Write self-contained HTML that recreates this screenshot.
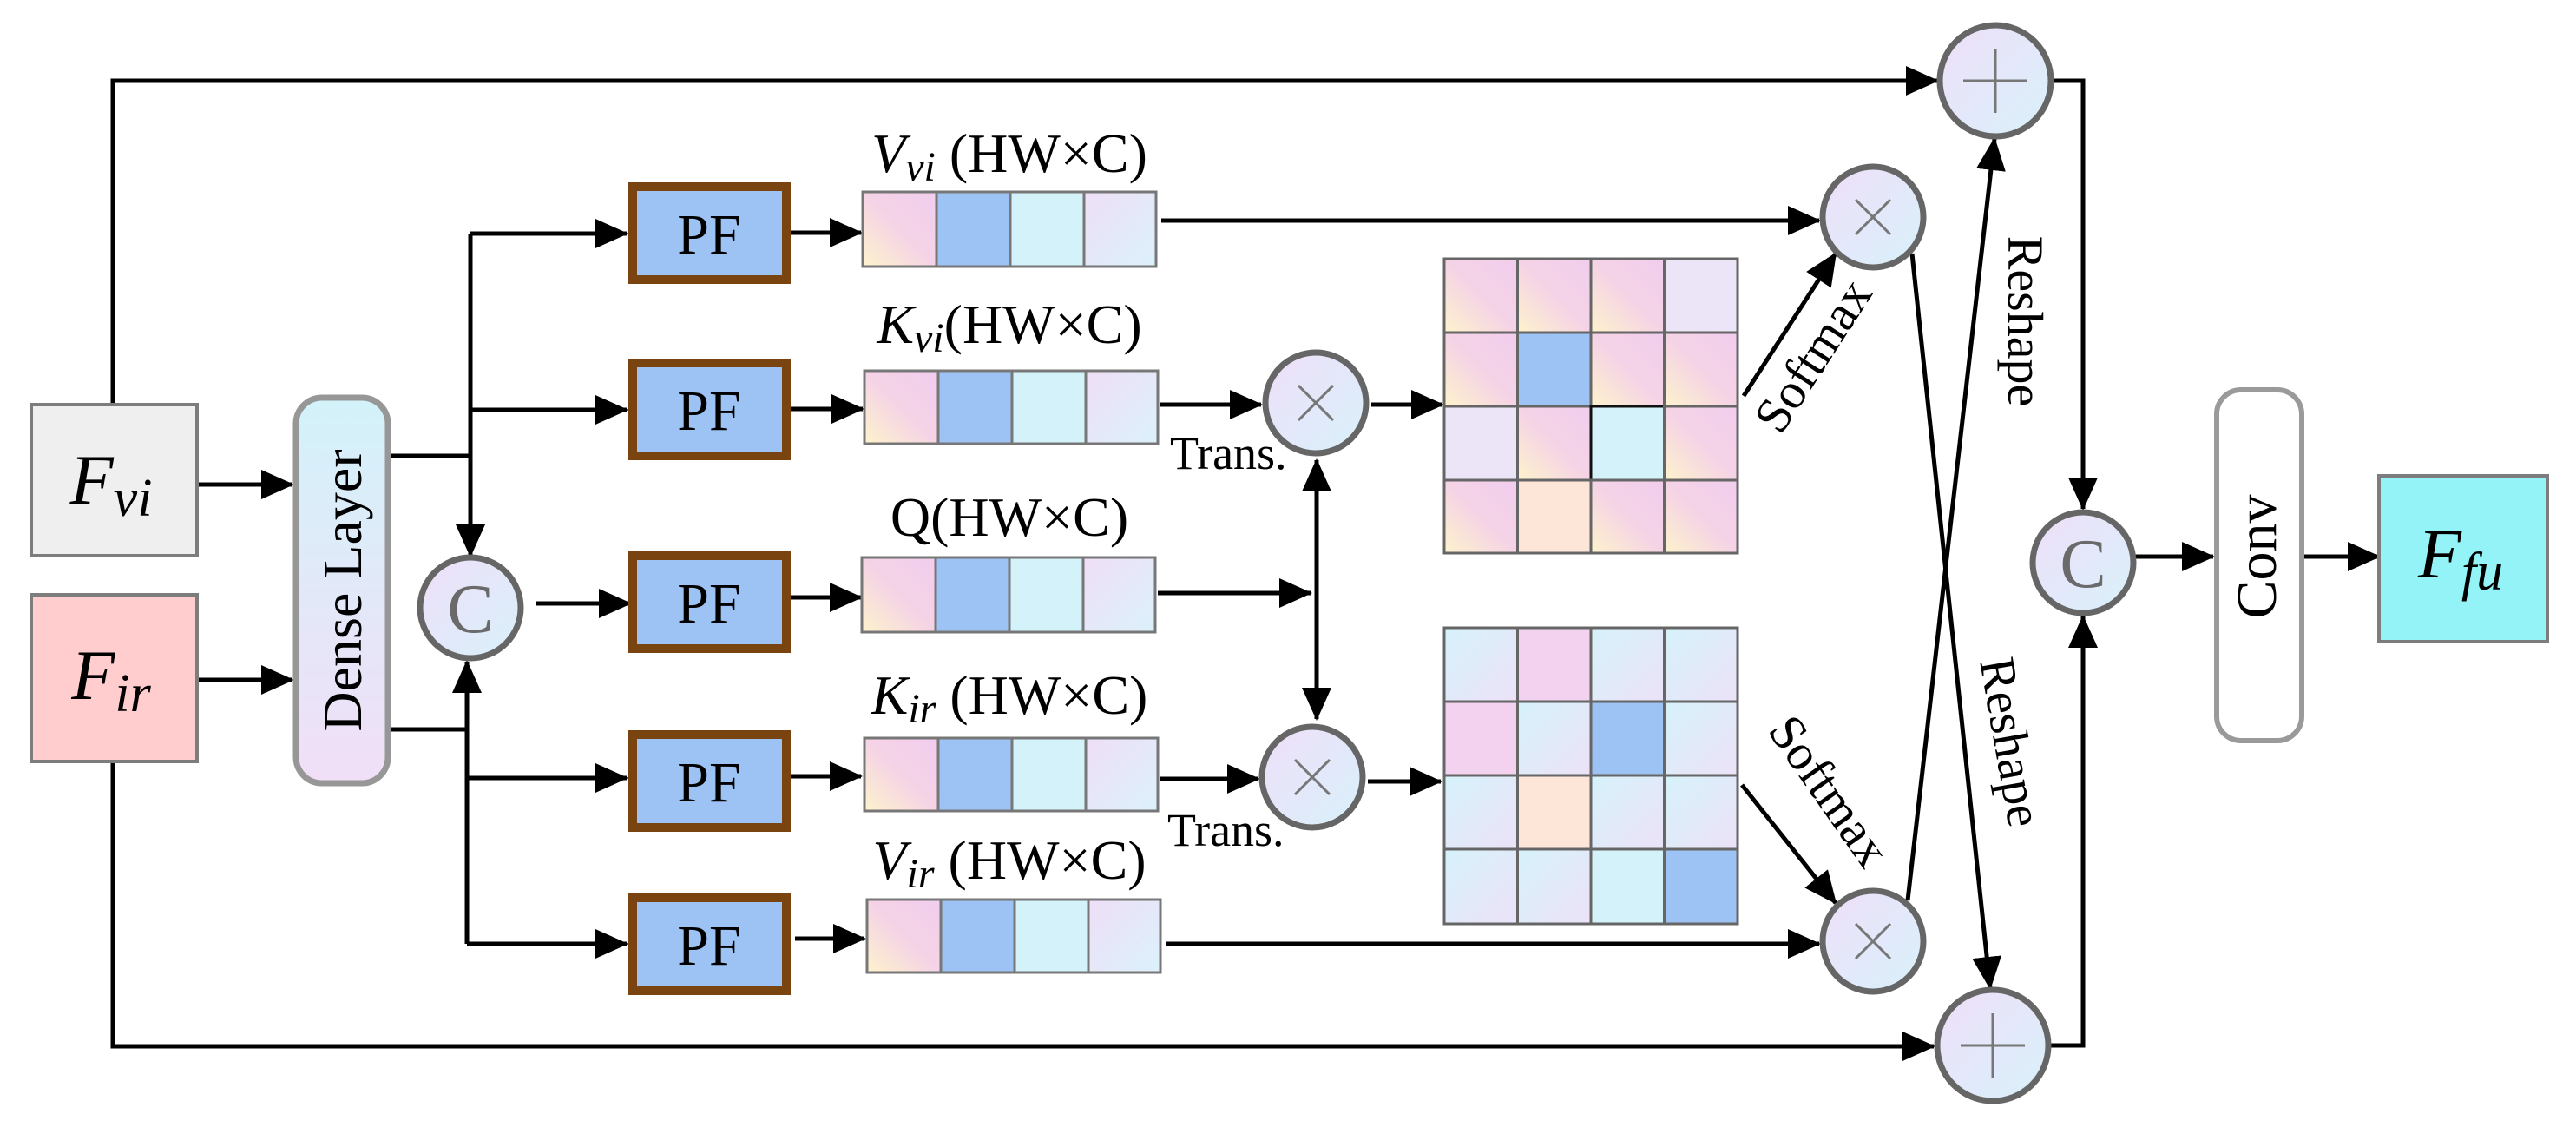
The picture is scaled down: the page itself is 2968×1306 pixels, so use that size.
<!DOCTYPE html>
<html><head><meta charset="utf-8"><style>html,body{margin:0;padding:0;background:#fff}svg{display:block}svg text{font-family:"Liberation Serif","DejaVu Serif",serif}</style></head>
<body>
<svg width="2968" height="1306" viewBox="0 0 2968 1306" xmlns="http://www.w3.org/2000/svg" style="font-family:'Liberation Serif',serif">
<defs>
<marker id="a" markerUnits="userSpaceOnUse" markerWidth="40" markerHeight="34" refX="36" refY="17" orient="auto"><path d="M0,0 L38,17 L0,34 Z" fill="#000"/></marker>
<marker id="as" markerUnits="userSpaceOnUse" markerWidth="40" markerHeight="34" refX="2" refY="17" orient="auto"><path d="M38,0 L0,17 L38,34 Z" fill="#000"/></marker>
<linearGradient id="pp" x1="1" y1="0" x2="0" y2="1"><stop offset="0" stop-color="#f1cdee"/><stop offset="0.5" stop-color="#f5d3e6"/><stop offset="1" stop-color="#fdf3cc"/></linearGradient>
<linearGradient id="lav" x1="0" y1="0" x2="1" y2="1"><stop offset="0" stop-color="#efdff8"/><stop offset="1" stop-color="#dbf1fa"/></linearGradient>
<linearGradient id="lt" x1="0" y1="0" x2="1" y2="1"><stop offset="0" stop-color="#d6f2fa"/><stop offset="1" stop-color="#ece2f8"/></linearGradient>
<linearGradient id="cir" x1="0" y1="0" x2="1" y2="1"><stop offset="0" stop-color="#efdff8"/><stop offset="1" stop-color="#d8f1fb"/></linearGradient>
<linearGradient id="dense" x1="0" y1="0" x2="0" y2="1"><stop offset="0" stop-color="#d3f2fa"/><stop offset="1" stop-color="#f1dff7"/></linearGradient>
</defs>
<g stroke="#000" stroke-width="5" fill="none">
<polyline points="130,466 130,93 2232,93" marker-end="url(#a)"/>
<polyline points="130,877 130,1205 2228,1205" marker-end="url(#a)"/>
<line x1="227" y1="558" x2="337" y2="558" marker-end="url(#a)"/>
<line x1="227" y1="783" x2="337" y2="783" marker-end="url(#a)"/>
<polyline points="448,525 542,525"/>
<polyline points="448,840 538,840"/>
<line x1="542" y1="269" x2="542" y2="640" marker-end="url(#a)"/>
<line x1="538" y1="1087" x2="538" y2="762" marker-end="url(#a)"/>
<line x1="542" y1="269" x2="722" y2="269" marker-end="url(#a)"/>
<line x1="542" y1="472" x2="722" y2="472" marker-end="url(#a)"/>
<line x1="538" y1="896" x2="722" y2="896" marker-end="url(#a)"/>
<line x1="538" y1="1087" x2="722" y2="1087" marker-end="url(#a)"/>
<line x1="617" y1="695" x2="726" y2="695" marker-end="url(#a)"/>
<line x1="911" y1="268" x2="992" y2="268" marker-end="url(#a)"/>
<line x1="911" y1="471" x2="994" y2="471" marker-end="url(#a)"/>
<line x1="911" y1="688" x2="992" y2="688" marker-end="url(#a)"/>
<line x1="911" y1="894" x2="992" y2="894" marker-end="url(#a)"/>
<line x1="916" y1="1081" x2="996" y2="1081" marker-end="url(#a)"/>
<line x1="1338" y1="254" x2="2096" y2="254" marker-end="url(#a)"/>
<line x1="1337" y1="466" x2="1453" y2="466" marker-end="url(#a)"/>
<line x1="1334" y1="683" x2="1510" y2="683" marker-end="url(#a)"/>
<line x1="1337" y1="897" x2="1450" y2="897" marker-end="url(#a)"/>
<line x1="1344" y1="1087" x2="2096" y2="1087" marker-end="url(#a)"/>
<line x1="1517" y1="530" x2="1517" y2="828" marker-start="url(#as)" marker-end="url(#a)"/>
<line x1="1580" y1="466" x2="1662" y2="466" marker-end="url(#a)"/>
<line x1="1576" y1="900" x2="1660" y2="900" marker-end="url(#a)"/>
<line x1="2009" y1="456" x2="2115" y2="292" marker-end="url(#a)"/>
<line x1="2007" y1="904" x2="2115" y2="1040" marker-end="url(#a)"/>
<line x1="2203" y1="292" x2="2293" y2="1138" marker-end="url(#a)"/>
<line x1="2198" y1="1037" x2="2298" y2="160" marker-end="url(#a)"/>
<polyline points="2366,93 2400,93 2400,586" marker-end="url(#a)"/>
<polyline points="2362,1204 2400,1204 2400,710" marker-end="url(#a)"/>
<line x1="2460" y1="641" x2="2550" y2="641" marker-end="url(#a)"/>
<line x1="2653" y1="641" x2="2741" y2="641" marker-end="url(#a)"/>
</g>
<rect x="36" y="466" width="191" height="174" fill="#efefef" stroke="#7d7d7d" stroke-width="4"/>
<rect x="36" y="685" width="191" height="192" fill="#ffcdcd" stroke="#7d7d7d" stroke-width="4"/>
<text x="128" y="580" font-size="82" font-style="italic" text-anchor="middle">F<tspan font-size="62" dy="14">vi</tspan></text>
<text x="128" y="805" font-size="82" font-style="italic" text-anchor="middle">F<tspan font-size="62" dy="14">ir</tspan></text>
<rect x="341" y="458" width="106" height="444" rx="30" fill="url(#dense)" stroke="#979797" stroke-width="7"/>
<text transform="translate(416,680) rotate(-90)" font-size="64" text-anchor="middle">Dense Layer</text>
<circle cx="542" cy="700" r="58" fill="url(#cir)" stroke="#666" stroke-width="7"/>
<text x="542" y="728" font-size="80" fill="#6a6a6a" text-anchor="middle">C</text>
<g fill="#9cc3f3" stroke="#7a4410" stroke-width="10">
<rect x="729" y="215" width="177" height="107"/>
<rect x="729" y="418" width="177" height="107"/>
<rect x="729" y="640" width="177" height="107"/>
<rect x="729" y="846" width="177" height="107"/>
<rect x="729" y="1034" width="177" height="107"/>
</g>
<g font-size="66" text-anchor="middle">
<text x="817" y="292">PF</text><text x="817" y="495">PF</text><text x="817" y="717">PF</text><text x="817" y="923">PF</text><text x="817" y="1111">PF</text>
</g>
<g stroke="#777" stroke-width="3">
<g transform="translate(994,221)"><rect width="85" height="86" fill="url(#pp)"/><rect x="85" width="85" height="86" fill="#9cc3f3"/><rect x="170" width="85" height="86" fill="#d3f2f9"/><rect x="255" width="83" height="86" fill="url(#lav)"/></g>
<g transform="translate(996,427)"><rect width="85" height="84" fill="url(#pp)"/><rect x="85" width="85" height="84" fill="#9cc3f3"/><rect x="170" width="85" height="84" fill="#d3f2f9"/><rect x="255" width="83" height="84" fill="url(#lav)"/></g>
<g transform="translate(993,642)"><rect width="85" height="86" fill="url(#pp)"/><rect x="85" width="85" height="86" fill="#9cc3f3"/><rect x="170" width="85" height="86" fill="#d3f2f9"/><rect x="255" width="83" height="86" fill="url(#lav)"/></g>
<g transform="translate(996,850)"><rect width="85" height="84" fill="url(#pp)"/><rect x="85" width="85" height="84" fill="#9cc3f3"/><rect x="170" width="85" height="84" fill="#d3f2f9"/><rect x="255" width="83" height="84" fill="url(#lav)"/></g>
<g transform="translate(999,1036)"><rect width="85" height="84" fill="url(#pp)"/><rect x="85" width="85" height="84" fill="#9cc3f3"/><rect x="170" width="85" height="84" fill="#d3f2f9"/><rect x="255" width="83" height="84" fill="url(#lav)"/></g>
</g>
<g font-size="64" text-anchor="middle">
<text x="1163" y="198"><tspan font-style="italic">V<tspan font-size="48" dy="10">vi</tspan></tspan><tspan dy="-10"> (HW×C)</tspan></text>
<text x="1163" y="395"><tspan font-style="italic">K<tspan font-size="48" dy="10">vi</tspan></tspan><tspan dy="-10">(HW×C)</tspan></text>
<text x="1163" y="617">Q(HW×C)</text>
<text x="1163" y="822"><tspan font-style="italic">K<tspan font-size="48" dy="10">ir</tspan></tspan><tspan dy="-10"> (HW×C)</tspan></text>
<text x="1163" y="1012"><tspan font-style="italic">V<tspan font-size="48" dy="10">ir</tspan></tspan><tspan dy="-10"> (HW×C)</tspan></text>
</g>
<text x="1348" y="540" font-size="54">Trans.</text>
<text x="1345" y="974" font-size="54">Trans.</text>
<g fill="url(#cir)" stroke="#666" stroke-width="7">
<circle cx="1516" cy="464" r="58"/><circle cx="1512" cy="895" r="58"/>
<circle cx="2158" cy="250" r="58"/><circle cx="2158" cy="1084" r="58"/>
<circle cx="2299" cy="93" r="64"/><circle cx="2296" cy="1204" r="64"/>
<circle cx="2400" cy="648" r="58"/>
</g>
<g stroke="#777" stroke-width="3">
<path d="M1496,444 l40,40 M1536,444 l-40,40"/>
<path d="M1492,875 l40,40 M1532,875 l-40,40"/>
<path d="M2138,230 l40,40 M2178,230 l-40,40"/>
<path d="M2138,1064 l40,40 M2178,1064 l-40,40"/>
<path d="M2299,56 v74 M2262,93 h74"/>
<path d="M2296,1167 v74 M2259,1204 h74"/>
</g>
<text x="2400" y="676" font-size="80" fill="#6a6a6a" text-anchor="middle">C</text>
<g stroke="#666" stroke-width="3">
<g transform="translate(1664,298)">
<rect x="0" y="0" width="84.5" height="85" fill="url(#pp)"/><rect x="84.5" y="0" width="84.5" height="85" fill="url(#pp)"/><rect x="169" y="0" width="84.5" height="85" fill="url(#pp)"/><rect x="253.5" y="0" width="84.5" height="85" fill="#ece4f7"/>
<rect x="0" y="85" width="84.5" height="85" fill="url(#pp)"/><rect x="84.5" y="85" width="84.5" height="85" fill="#9cc3f3"/><rect x="169" y="85" width="84.5" height="85" fill="url(#pp)"/><rect x="253.5" y="85" width="84.5" height="85" fill="url(#pp)"/>
<rect x="0" y="170" width="84.5" height="85" fill="#ece4f7"/><rect x="84.5" y="170" width="84.5" height="85" fill="url(#pp)"/><rect x="169" y="170" width="84.5" height="85" fill="#d3f2f9" stroke="#111"/><rect x="253.5" y="170" width="84.5" height="85" fill="url(#pp)"/>
<rect x="0" y="255" width="84.5" height="84" fill="url(#pp)"/><rect x="84.5" y="255" width="84.5" height="84" fill="#fde6d8"/><rect x="169" y="255" width="84.5" height="84" fill="url(#pp)"/><rect x="253.5" y="255" width="84.5" height="84" fill="url(#pp)"/>
</g>
<g transform="translate(1664,723)">
<rect x="0" y="0" width="84.5" height="85" fill="url(#lt)"/><rect x="84.5" y="0" width="84.5" height="85" fill="#f2d2ee"/><rect x="169" y="0" width="84.5" height="85" fill="url(#lt)"/><rect x="253.5" y="0" width="84.5" height="85" fill="url(#lt)"/>
<rect x="0" y="85" width="84.5" height="85" fill="#f2d2ee"/><rect x="84.5" y="85" width="84.5" height="85" fill="url(#lt)"/><rect x="169" y="85" width="84.5" height="85" fill="#9cc3f3"/><rect x="253.5" y="85" width="84.5" height="85" fill="url(#lt)"/>
<rect x="0" y="170" width="84.5" height="85" fill="url(#lt)"/><rect x="84.5" y="170" width="84.5" height="85" fill="#fde6d8"/><rect x="169" y="170" width="84.5" height="85" fill="url(#lt)"/><rect x="253.5" y="170" width="84.5" height="85" fill="url(#lt)"/>
<rect x="0" y="255" width="84.5" height="86" fill="url(#lt)"/><rect x="84.5" y="255" width="84.5" height="86" fill="url(#lt)"/><rect x="169" y="255" width="84.5" height="86" fill="#d3f2f9"/><rect x="253.5" y="255" width="84.5" height="86" fill="#9cc3f3"/>
</g>
</g>
<text transform="translate(2105,420) rotate(-57)" font-size="58" text-anchor="middle">Softmax</text>
<text transform="translate(2092,922) rotate(55)" font-size="58" text-anchor="middle">Softmax</text>
<text transform="translate(2314,370) rotate(90)" font-size="58" text-anchor="middle">Reshape</text>
<text transform="translate(2298,858) rotate(80)" font-size="58" text-anchor="middle">Reshape</text>
<rect x="2554" y="449" width="98" height="404" rx="28" fill="#fff" stroke="#9a9a9a" stroke-width="6"/>
<text transform="translate(2622,641) rotate(-90)" font-size="66" text-anchor="middle">Conv</text>
<rect x="2741" y="548" width="194" height="191" fill="#93f3f6" stroke="#7d7d7d" stroke-width="4"/>
<text x="2835" y="665" font-size="82" font-style="italic" text-anchor="middle">F<tspan font-size="62" dy="14">fu</tspan></text>
</svg>
</body></html>
